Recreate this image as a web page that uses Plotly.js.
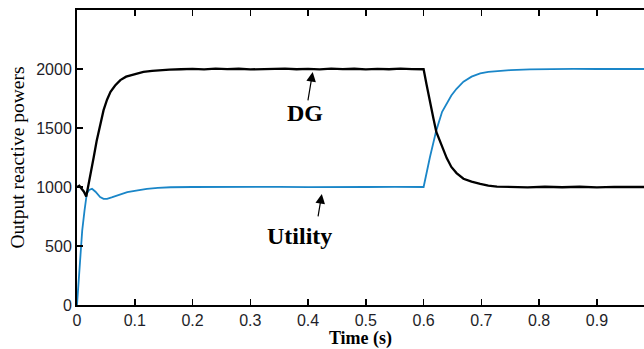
<!DOCTYPE html>
<html><head><meta charset="utf-8">
<script src="https://cdn.plot.ly/plotly-3.0.1.min.js"></script>
<style>html,body{margin:0;padding:0;background:#fff}#chart{width:644px;height:349px}</style>
</head><body><div id="chart"></div>
<script>
// DG output reactive power
var tDG = [0,0.004,0.008,0.012,0.016,0.022,0.029,0.034,0.039,0.046,0.052,0.058,0.066,0.075,0.085,0.095,0.104,0.115,0.13,0.144,0.16,0.18,0.2,
  0.22,0.24,0.26,0.28,0.3,0.32,0.34,0.36,0.38,0.4,0.42,0.44,0.46,0.48,0.5,0.52,0.54,0.56,0.58,0.6,
  0.605,0.611,0.617,0.622,0.632,0.64,0.648,0.657,0.669,0.683,0.698,0.712,0.727,0.75,0.78,0.81,0.84,0.87,0.9,0.93,0.96,0.982];
var qDG = [1000,1010,985,960,919,1060,1254,1390,1495,1651,1740,1807,1860,1906,1935,1950,1963,1975,1985,1992,1995,1998,2001,
  1997,2003,1999,2002,1997,2001,1999,2003,1998,2001,1997,2003,1999,2002,1997,2001,1998,2003,1999,1998,
  1870,1708,1580,1467,1339,1245,1170,1118,1070,1045,1027,1012,1004,1002,997,1002,998,1002,997,1001,998,1000];
// Utility output reactive power
var tUT = [0,0.003,0.006,0.009,0.013,0.017,0.021,0.026,0.032,0.04,0.046,0.052,0.06,0.07,0.087,0.105,0.121,0.14,0.162,0.2,
  0.25,0.3,0.35,0.4,0.45,0.5,0.55,0.6,
  0.611,0.617,0.622,0.632,0.64,0.648,0.657,0.669,0.683,0.698,0.712,0.727,0.75,0.784,0.82,0.86,0.9,0.94,0.982];
var qUT = [0,204,420,630,800,945,975,985,960,915,900,900,912,930,956,972,985,992,998,1000,
  1002,998,1001,999,1002,1000,1001,1000,
  1254,1370,1480,1637,1710,1775,1832,1892,1935,1963,1975,1983,1990,1997,2000,2001,2000,2000,2000];
var yTicks = [0,500,1000,1500,2000];
var xTicks = [0,0.1,0.2,0.3,0.4,0.5,0.6,0.7,0.8,0.9];
var xTickText = ['0','0.1','0.2','0.3','0.4','0.5','0.6','0.7','0.8','0.9'];

var traces = [
  {x:tUT, y:qUT, mode:'lines', line:{color:'#1a86c8', width:1.8}, hoverinfo:'skip'},
  {x:tDG, y:qDG, mode:'lines', line:{color:'#000', width:2.3}, hoverinfo:'skip'}
];
var tickFont = {family:'Liberation Sans, Arial, sans-serif', size:16, color:'#1e1e28'};
var layout = {
  width:644, height:349,
  margin:{l:77, r:0, t:10, b:44},
  showlegend:false,
  paper_bgcolor:'#fff', plot_bgcolor:'#fff',
  xaxis:{range:[0,0.9815], tickvals:xTicks, ticktext:xTickText, ticks:'inside', ticklen:6, tickwidth:1.5,
    tickcolor:'#000', showline:true, linecolor:'#000', linewidth:2, mirror:'ticks', showgrid:false, zeroline:false,
    tickfont:tickFont,
    title:{text:'<b>Time (s)</b>', font:{family:'Liberation Serif, Times New Roman, serif', size:18, color:'#000'}, standoff:4}},
  yaxis:{range:[0,2500], tickvals:yTicks, ticks:'inside', ticklen:6, tickwidth:1.5,
    tickcolor:'#000', showline:true, linecolor:'#000', linewidth:2, mirror:false, showgrid:false, zeroline:false,
    tickfont:tickFont,
    title:{text:'Output reactive powers', font:{family:'Liberation Serif, Times New Roman, serif', size:19.5, color:'#000'}, standoff:6}},
  annotations:[
    {x:0.408, y:1975, ax:-5, ay:30, text:'', showarrow:true, arrowhead:2, arrowsize:1.6, arrowwidth:1.2, arrowcolor:'#000'},
    {x:0.394, y:1627, text:'<b>DG</b>', showarrow:false, font:{family:'Liberation Serif, Times New Roman, serif', size:24, color:'#000'}},
    {x:0.4238, y:941, ax:-4, ay:24, text:'', showarrow:true, arrowhead:2, arrowsize:1.6, arrowwidth:1.2, arrowcolor:'#000'},
    {x:0.3856, y:585, text:'<b>Utility</b>', showarrow:false, font:{family:'Liberation Serif, Times New Roman, serif', size:24, color:'#000'}}
  ]
};
Plotly.newPlot('chart', traces, layout, {staticPlot:true, displayModeBar:false});
</script>
</body></html>
